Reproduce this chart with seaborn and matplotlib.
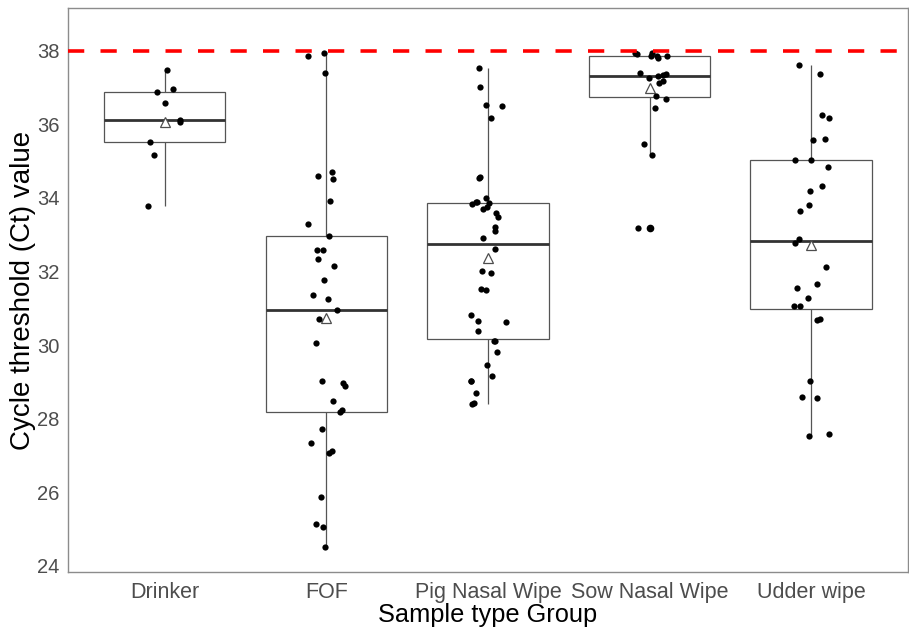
import numpy as np
import pandas as pd
import matplotlib
matplotlib.use("Agg")
import matplotlib.pyplot as plt
import seaborn as sns

# Ct values
groups = ["Drinker", "FOF", "Pig Nasal Wipe", "Sow Nasal Wipe", "Udder wipe"]

drinker_ct = [37.48, 36.96, 36.89, 36.57, 36.12, 36.05, 35.53, 35.17, 33.78]
fof_ct = [37.94, 37.85, 37.39, 34.71, 34.59, 34.50, 33.92, 33.29, 32.97, 32.58,
          32.58, 32.35, 32.15, 31.76, 31.37, 31.26, 30.95, 30.72, 30.06, 29.02,
          28.98, 28.88, 28.48, 28.24, 28.19, 27.72, 27.33, 27.12, 27.07, 25.86,
          25.13, 25.06, 24.52]
pig_ct = [37.53, 37.00, 36.52, 36.49, 36.16, 34.58, 34.54, 34.00, 33.90, 33.88,
          33.85, 33.82, 33.75, 33.70, 33.59, 33.47, 33.22, 33.11, 32.91, 32.60,
          32.00, 31.95, 31.51, 31.49, 30.81, 30.65, 30.63, 30.39, 30.10, 30.10,
          29.81, 29.45, 29.16, 29.03, 29.03, 28.69, 28.42, 28.40]
sow_ct = [37.95, 37.95, 37.90, 37.86, 37.86, 37.85, 37.80, 37.40, 37.36, 37.33,
          37.30, 37.27, 37.17, 37.12, 36.76, 36.70, 36.45, 35.46, 35.16, 33.18]
udder_ct = [37.60, 37.37, 36.25, 36.17, 35.59, 35.57, 35.04, 35.04, 34.83, 34.32,
            34.20, 33.80, 33.63, 32.87, 32.76, 32.11, 31.66, 31.55, 31.28, 31.07,
            31.05, 30.72, 30.69, 29.02, 28.60, 28.56, 27.57, 27.52]

cutoff_ct = 38
y_ticks = [24, 26, 28, 30, 32, 34, 36, 38]

all_ct = [drinker_ct, fof_ct, pig_ct, sow_ct, udder_ct]
df = pd.DataFrame({
    "Group": np.repeat(groups, [len(v) for v in all_ct]),
    "Ct": np.concatenate(all_ct),
})

sns.set_theme(style="white")
plt.rcParams["font.family"] = ["Liberation Sans", "DejaVu Sans"]

fig = plt.figure(figsize=(9.09, 6.32), dpi=100)
ax = fig.add_axes([0.0748, 0.0949, 0.9241, 0.8924])

sns.boxplot(data=df, x="Group", y="Ct", order=groups, width=0.75,
            color="white", linecolor="#555555", linewidth=0.9,
            showmeans=True,
            meanprops=dict(marker="^", markerfacecolor="white",
                           markeredgecolor="#4d4d4d", markersize=7.5,
                           markeredgewidth=0.9),
            medianprops=dict(color="#333333", linewidth=2),
            flierprops=dict(marker="o", markerfacecolor="black",
                            markeredgecolor="black", markersize=4.5),
            capprops=dict(linewidth=0),
            ax=ax)

np.random.seed(3)
sns.stripplot(data=df, x="Group", y="Ct", order=groups, color="black",
              size=4.5, jitter=0.12, linewidth=0, ax=ax, zorder=3)

ax.axhline(cutoff_ct, color="#ff0000", lw=2.6, dashes=(4.5, 4.5), zorder=4)

ax.set_xlim(-0.6, 4.6)
ax.set_ylim(23.83, 39.16)
ax.set_yticks(y_ticks)

for sp in ax.spines.values():
    sp.set_visible(True)
    sp.set_color("#8c8c8c")
    sp.set_linewidth(1)

ax.tick_params(axis="both", direction="out", length=4, width=0.8,
               color="#4d4d4d", labelcolor="#4d4d4d")
ax.tick_params(axis="x", labelsize=15.5)
ax.tick_params(axis="y", labelsize=14.5, pad=2)

ax.set_xlabel("Sample type Group", fontsize=18.3, color="black", labelpad=0)
ax.set_ylabel("Cycle threshold (Ct) value", fontsize=20, color="black", labelpad=1)

fig.savefig("out.png", dpi=100)
